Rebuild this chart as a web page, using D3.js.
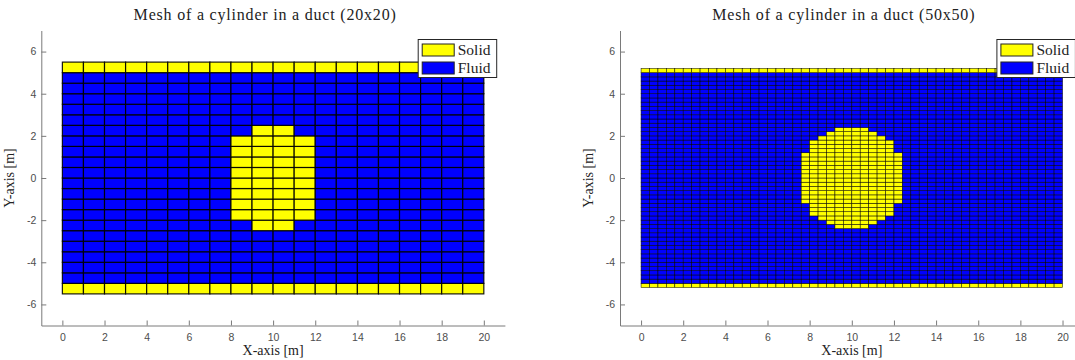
<!DOCTYPE html>
<html>
<head>
<meta charset="utf-8">
<script src="https://cdn.jsdelivr.net/npm/d3@7/dist/d3.min.js"></script>
<style>
  html, body { margin: 0; padding: 0; background: #fff; }
  svg { display: block; }
  .serif { font-family: "Liberation Serif", "DejaVu Serif", serif; fill: #222; }
  .tick text { font-family: "Liberation Sans", Arial, sans-serif; font-size: 10.5px; fill: #4d4d4d; }
</style>
</head>
<body>
<svg id="fig" width="1075" height="360"></svg>
<script>
// Duct geometry (metres)
const ductX = [0, 20];
const ductY = [-5, 5];

// Coarse mesh: 20 x 20 fluid cells plus one wall row on each side
const coarseCells = [20, 20];
const coarseWall = 0.5;
// Solid cylinder cells, one entry per horizontal band: y range and x range
const coarseSolidY = [[-2.5, -2], [-2, 2], [2, 2.5]];
const coarseSolidX = [[9, 11], [8, 12], [9, 11]];

// Fine mesh: 50 x 50 fluid cells plus one wall row on each side
const fineCells = [50, 50];
const fineWall = 0.2;
// Solid cylinder cells, row by row from y = -2.4 upward (rows 0.2 m high)
const fineSolidBottom = [-2.4, -2.2, -2.0, -1.8, -1.6, -1.4, -1.2, -1.0, -0.8, -0.6, -0.4, -0.2,
                          0.0,  0.2,  0.4,  0.6,  0.8,  1.0,  1.2,  1.4,  1.6,  1.8,  2.0,  2.2];
const fineSolidLeft   = [ 9.2,  8.8,  8.4,  8.0,  8.0,  8.0,  7.6,  7.6,  7.6,  7.6,  7.6,  7.6,
                          7.6,  7.6,  7.6,  7.6,  7.6,  7.6,  8.0,  8.0,  8.0,  8.4,  8.8,  9.2];
const fineSolidRight  = [10.8, 11.2, 11.6, 12.0, 12.0, 12.0, 12.4, 12.4, 12.4, 12.4, 12.4, 12.4,
                         12.4, 12.4, 12.4, 12.4, 12.4, 12.4, 12.0, 12.0, 12.0, 11.6, 11.2, 10.8];

// Axes
const xDomain = [-1, 21];
const yDomain = [-7, 7];
const xTicks = [0, 2, 4, 6, 8, 10, 12, 14, 16, 18, 20];
const yTicks = [-6, -4, -2, 0, 2, 4, 6];

const titles = ["Mesh of a cylinder in a duct (20x20)", "Mesh of a cylinder in a duct (50x50)"];
const legendLabels = ["Solid", "Fluid"];
const solidColor = "#ffff00";
const fluidColor = "#0000ff";

const svg = d3.select("#fig");

function buildCells(nCells, wall, solidY, solidX) {
  const [nx, ny] = nCells;
  const dx = (ductX[1] - ductX[0]) / nx;
  const dy = (ductY[1] - ductY[0]) / ny;
  const eps = 1e-9;
  const cells = [];
  // wall row below, fluid rows, wall row above
  const rows = [[ductY[0] - wall, ductY[0], true]];
  for (let j = 0; j < ny; j++) rows.push([ductY[0] + j * dy, ductY[0] + (j + 1) * dy, false]);
  rows.push([ductY[1], ductY[1] + wall, true]);
  rows.forEach(([y0, y1, isWall]) => {
    for (let i = 0; i < nx; i++) {
      const x0 = ductX[0] + i * dx, x1 = x0 + dx;
      let solid = isWall;
      if (!solid) {
        for (let k = 0; k < solidY.length; k++) {
          if (y0 >= solidY[k][0] - eps && y1 <= solidY[k][1] + eps &&
              x0 >= solidX[k][0] - eps && x1 <= solidX[k][1] + eps) { solid = true; break; }
        }
      }
      cells.push({ x0, x1, y0, y1, solid });
    }
  });
  return cells;
}

function drawPanel(opts) {
  const x = d3.scaleLinear().domain(xDomain).range(opts.xRange);
  const y = d3.scaleLinear().domain(yDomain).range([325.5, 30.5]);
  const g = svg.append("g");

  g.append("g").selectAll("rect").data(opts.cells).join("rect")
    .attr("x", d => x(d.x0))
    .attr("y", d => y(d.y1))
    .attr("width", d => x(d.x1) - x(d.x0))
    .attr("height", d => y(d.y0) - y(d.y1))
    .attr("fill", d => d.solid ? solidColor : fluidColor)
    .attr("stroke", "#000")
    .attr("stroke-opacity", opts.edgeOpacity)
    .attr("stroke-width", opts.edgeWidth);

  const axisColor = "#7a7a7a";
  const gx = g.append("g").attr("transform", `translate(0,${y(yDomain[0])})`)
    .call(d3.axisBottom(x).tickValues(xTicks).tickSizeInner(-5).tickSizeOuter(0).tickPadding(8)
      .tickFormat(d3.format("d")));
  const gy = g.append("g").attr("transform", `translate(${x(xDomain[0])},0)`)
    .call(d3.axisLeft(y).tickValues(yTicks).tickSizeInner(-5).tickSizeOuter(0).tickPadding(5)
      .tickFormat(d => d < 0 ? "-" + Math.abs(d) : String(d)));
  [gx, gy].forEach(a => {
    a.select(".domain").attr("stroke", axisColor);
    a.selectAll(".tick line").attr("stroke", axisColor);
  });

  const cx = (opts.xRange[0] + opts.xRange[1]) / 2;
  g.append("text").attr("class", "serif").attr("x", cx - 8).attr("y", 20)
    .attr("text-anchor", "middle").style("font-size", "16px").style("letter-spacing", "0.8px")
    .text(opts.title);
  g.append("text").attr("class", "serif").attr("x", cx).attr("y", 355)
    .attr("text-anchor", "middle").style("font-size", "14px").text("X-axis [m]");
  g.append("text").attr("class", "serif")
    .attr("transform", `translate(${opts.xRange[0] - 27},178) rotate(-90)`)
    .attr("text-anchor", "middle").style("font-size", "14px").text("Y-axis [m]");

  // legend
  const lx = opts.xRange[1] - 86.7;
  const lg = g.append("g").attr("transform", `translate(${lx},39.5)`);
  lg.append("rect").attr("width", 78.5).attr("height", 38)
    .attr("fill", "#fff").attr("stroke", "#262626").attr("stroke-width", 1);
  [solidColor, fluidColor].forEach((c, i) => {
    lg.append("rect").attr("x", 4).attr("y", 4.5 + i * 18).attr("width", 32).attr("height", 12)
      .attr("fill", c).attr("stroke", "#222").attr("stroke-width", 1);
    lg.append("text").attr("class", "serif").attr("x", 39.5).attr("y", 15.5 + i * 18)
      .style("font-size", "15.5px").text(legendLabels[i]);
  });
}

drawPanel({
  xRange: [41.3, 504.9],
  cells: buildCells(coarseCells, coarseWall, coarseSolidY, coarseSolidX),
  title: titles[0],
  edgeWidth: 1.2,
  edgeOpacity: 0.9
});

drawPanel({
  xRange: [620, 1083.6],
  cells: buildCells(fineCells, fineWall,
    fineSolidBottom.map(b => [b, +(b + 0.2).toFixed(1)]),
    fineSolidLeft.map((l, i) => [l, fineSolidRight[i]])),
  title: titles[1],
  edgeWidth: 0.6,
  edgeOpacity: 0.85
});
</script>
</body>
</html>
